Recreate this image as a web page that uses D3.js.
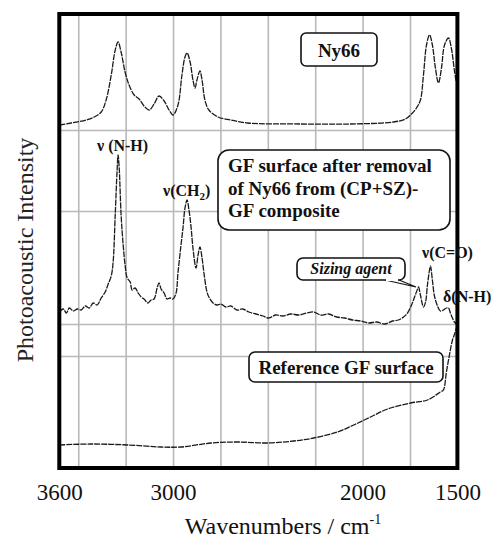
<!DOCTYPE html>
<html><head><meta charset="utf-8">
<script src="https://cdn.jsdelivr.net/npm/d3@7/dist/d3.min.js"></script>
<style>
html,body{margin:0;padding:0;background:#fff;}
</style></head>
<body><svg id="c" width="493" height="540" font-family="Liberation Serif"></svg>
<script>
// wavenumber (cm-1), photoacoustic intensity (a.u., spectra vertically offset)
const ny66Wn = [3600,3537,3458,3416,3379,3353,3326,3305,3290,3274,3253,3232,3205,3179,3153,3126,3100,3074,3047,3021,3000,2974,2953,2937,2926,2910,2895,2884,2874,2858,2847,2832,2811,2763,2695,2605,2326,2063,1837,1774,1742,1716,1695,1679,1663,1647,1632,1616,1600,1584,1568,1547,1532,1516,1505,1500];
const ny66Int = [343,345,348,351,356,368,393,418,426,416,396,383,373,369,362,358,364,372,367,358,353,363,393,411,415,406,388,380,388,397,388,368,358,351,348,345,344,344,346,349,354,360,368,393,423,433,423,400,385,400,423,430,420,398,386,384];

const gfWn = [3600,3579,3563,3547,3526,3505,3484,3463,3442,3421,3400,3379,3358,3342,3326,3316,3305,3295,3290,3284,3274,3263,3253,3242,3226,3216,3200,3184,3168,3153,3132,3116,3100,3084,3074,3063,3047,3032,3016,3000,2984,2974,2958,2947,2937,2926,2916,2905,2895,2879,2868,2858,2847,2837,2821,2811,2789,2768,2747,2721,2695,2663,2632,2600,2563,2526,2495,2458,2421,2379,2337,2295,2258,2221,2179,2137,2095,2053,2011,1968,1926,1884,1842,1811,1784,1763,1742,1726,1710,1705,1695,1679,1668,1658,1647,1642,1632,1621,1605,1590,1574,1558,1547,1537,1526,1516,1505];
const gfInt = [156,159,155,160,157,159,158,162,160,165,163,170,176,184,192,206,253,298,313,300,253,223,203,190,186,178,180,175,171,169,165,168,169,180,185,179,175,169,170,169,175,195,223,241,260,268,258,241,220,200,213,221,210,195,176,171,165,163,164,161,162,158,159,156,154,152,150,153,152,154,153,155,156,153,154,151,150,148,147,145,146,144,147,148,151,155,163,171,179,181,173,161,166,183,198,202,188,172,162,157,158,160,160,155,150,146,144];

const refWn = [3600,3432,3237,3063,2958,2800,2658,2500,2363,2258,2132,2047,1958,1868,1747,1658,1590,1574,1558,1542,1526,1511,1500];
const refInt = [23,24,23,21,21,25,26,25,27,30,36,43,51,59,65,68,76,78,96,113,128,136,144];

const tickWn = [3600,3000,2000,1500];
const gridWn = [3500,3250,3000,2750,2500,2250,2000,1750];
const gridInt = [338,257,144,112];

const FONT = "Liberation Serif";
const svg = d3.select("#c");
const x = d3.scaleLinear().domain([3600,1500]).range([59.3,457.4]);
const y = d3.scaleLinear().domain([0,454]).range([468,14]);
const L = 59.3, R = 457.4, T = 14, B = 468;

// grid
const g = svg.append("g");
g.append("g").attr("transform",`translate(0,${B})`)
 .call(d3.axisBottom(x).tickValues(gridWn).tickSize(-(B-T)).tickFormat(""))
 .call(s=>s.select(".domain").remove())
 .call(s=>s.selectAll("line").attr("stroke","#b9b9b9").attr("stroke-width",1.6));
g.append("g").attr("transform",`translate(${L},0)`)
 .call(d3.axisLeft(y).tickValues(gridInt).tickSize(-(R-L)).tickFormat(""))
 .call(s=>s.select(".domain").remove())
 .call(s=>s.selectAll("line").attr("stroke","#b9b9b9").attr("stroke-width",1.6));

// spectra
const line = d3.line().x(d=>x(d[0])).y(d=>y(d[1])).curve(d3.curveCatmullRom.alpha(0.5));
[[ny66Wn,ny66Int],[gfWn,gfInt],[refWn,refInt]].forEach(([w,v])=>{
  svg.append("path").datum(w.map((d,i)=>[d,v[i]]))
   .attr("d",line).attr("fill","none").attr("stroke","#1a1a1a")
   .attr("stroke-width",1.3).attr("stroke-dasharray","6,1");
});

// frame
svg.append("rect").attr("x",L).attr("y",T).attr("width",R-L).attr("height",B-T)
 .attr("fill","none").attr("stroke","#000").attr("stroke-width",4);

// x axis labels
svg.append("g").attr("transform",`translate(0,${B})`)
 .call(d3.axisBottom(x).tickValues(tickWn).tickSize(0).tickPadding(0).tickFormat(d3.format("d")))
 .call(s=>s.select(".domain").remove())
 .call(s=>s.selectAll("text").attr("y",32).attr("dy",0).attr("font-size",23)
   .attr("font-family",FONT).attr("fill","#111"));

function txt(x0,y0,size,t,opts){
  const e = svg.append("text").attr("x",x0).attr("y",y0).attr("font-size",size)
   .attr("font-family",FONT).attr("fill","#111");
  opts = opts||{};
  if(opts.bold) e.attr("font-weight","bold");
  if(opts.italic) e.attr("font-style","italic");
  if(opts.anchor) e.attr("text-anchor",opts.anchor);
  if(t!==null) e.text(t);
  return e;
}

// titles
const xt = txt(283,534,24,null,{anchor:"middle"});
xt.append("tspan").text("Wavenumbers / cm");
xt.append("tspan").text("-1").attr("font-size",14).attr("dy",-10);
svg.append("text").attr("transform","translate(33,250) rotate(-90)").attr("text-anchor","middle")
 .attr("font-family",FONT).attr("font-size",24).attr("fill","#222").text("Photoacoustic Intensity");

// boxes
function box(x0,y0,w,h,r){svg.append("rect").attr("x",x0).attr("y",y0).attr("width",w).attr("height",h)
  .attr("rx",r).attr("fill","#fff").attr("stroke","#111").attr("stroke-width",1.6);}
box(301,33,76,33,5);
txt(339,57,19,"Ny66",{bold:true,anchor:"middle"});

box(218,150,232,80,11);
["GF surface after removal","of Ny66 from (CP+SZ)-","GF composite"].forEach((t,i)=>{
  txt(228,172+i*22.5,19,t,{bold:true});
});

// sizing agent callout
svg.append("path").attr("d","M385,280 L416,287 L399,280").attr("fill","#fff").attr("stroke","#111").attr("stroke-width",1.2);
box(297,258,108,22,6);
svg.append("path").attr("d","M386,280 L398,280").attr("stroke","#fff").attr("stroke-width",2);
txt(351,274,16,"Sizing agent",{bold:true,italic:true,anchor:"middle"});

box(249,352,194,30,6);
txt(346,374,19,"Reference GF surface",{bold:true,anchor:"middle"});

// peak labels
txt(97,151,16,"ν (N-H)",{bold:true});
const ch = txt(163,196,16,null,{bold:true});
ch.append("tspan").text("ν(CH");
ch.append("tspan").text("2").attr("font-size",11).attr("dy",4);
ch.append("tspan").text(")").attr("dy",-4);
txt(422,258,16,"ν(C=O)",{bold:true});
txt(443,302,16,"δ(N-H)",{bold:true});
</script></body></html>
